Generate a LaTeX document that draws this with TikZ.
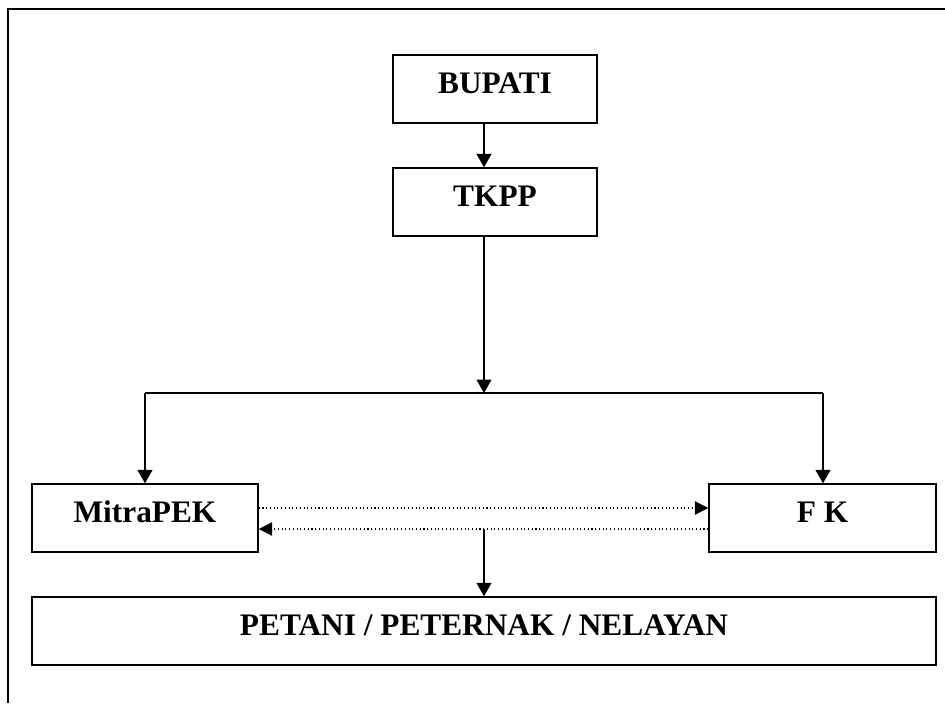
\documentclass[tikz,border=0pt]{standalone}
\usepackage{fontspec}
\setmainfont{Liberation Serif}
\usetikzlibrary{arrows.meta,calc}
\begin{document}
\begin{tikzpicture}[x=0.75pt,y=-0.75pt,
  box/.style={draw,line width=1.1pt,rectangle,inner sep=0pt,
    font=\fontsize{23.5}{25}\selectfont\bfseries,
    text height=15.5pt,text depth=9.5pt,minimum height=68*0.75pt},
  arr/.style={line width=1.4pt,-{Triangle[length=10pt,width=11pt]}},
  dotarr/.style={line width=0.8pt,dotted,-{Triangle[length=10pt,width=10pt]}},
  plain/.style={line width=1.4pt}]
\useasboundingbox (0,0) rectangle (945,703);
\draw[line width=1.1pt] (8,703) -- (8,9) -- (945,9);
\node[box,minimum width=204*0.75pt] (bupati) at (495,89) {BUPATI};
\node[box,minimum width=204*0.75pt] (tkpp) at (495,202) {TKPP};
\node[box,minimum width=226*0.75pt] (mitra) at (145,518) {MitraPEK};
\node[box,minimum width=227*0.75pt] (fk) at (822.5,518) {F K};
\node[box,minimum width=904*0.75pt] (petani) at (484,631) {PETANI / PETERNAK / NELAYAN};
\coordinate (j) at (484,393);
\coordinate (jl) at (145,393);
\coordinate (jr) at (823,393);
\coordinate (d1) at (0,508);
\coordinate (d2) at (0,529);
\coordinate (dm) at (484,529);
\draw[arr] (bupati.south -| j) -- (tkpp.north -| j);
\draw[arr] (tkpp.south -| j) -- (j);
\draw[plain] (jl) -- (jr);
\draw[arr] (jl) -- (mitra.north);
\draw[arr] (jr) -- (fk.north -| jr);
\draw[dotarr] (mitra.east |- d1) -- (fk.west |- d1);
\draw[dotarr] (fk.west |- d2) -- (mitra.east |- d2);
\draw[arr] (dm) -- (petani.north);
\end{tikzpicture}
\end{document}
